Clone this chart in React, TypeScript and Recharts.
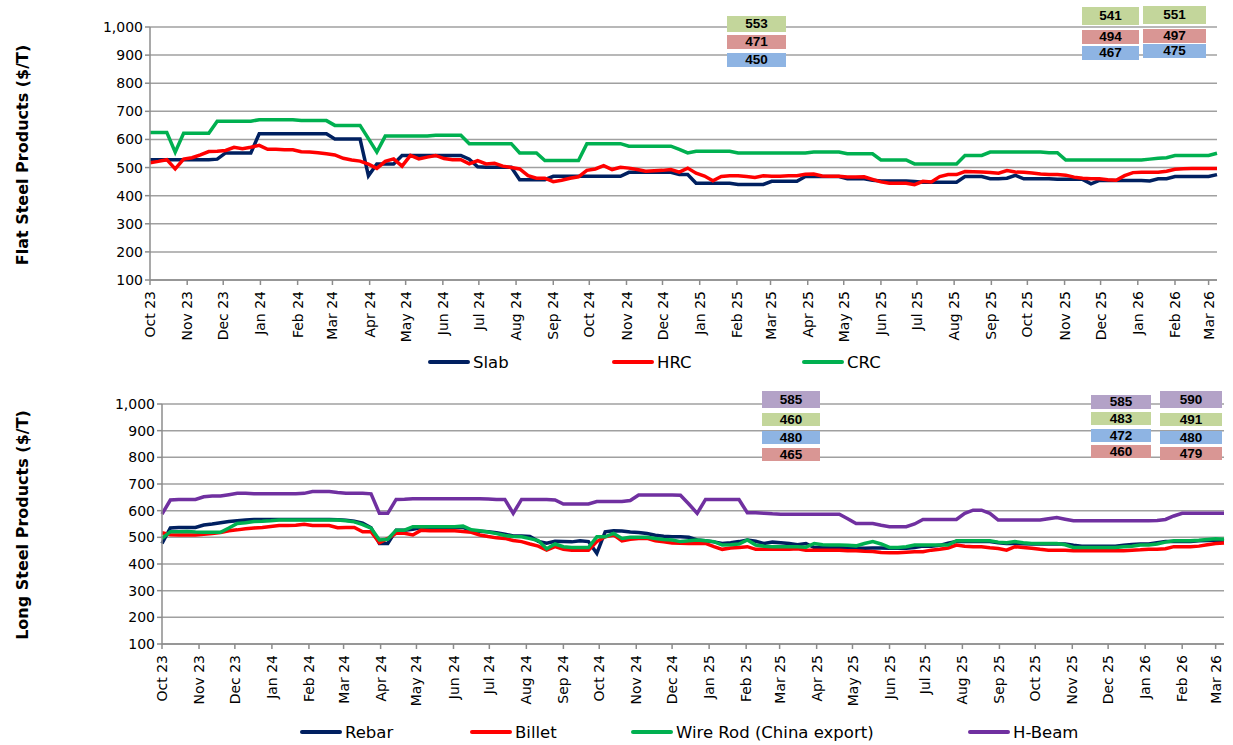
import React from "react";
import { LineChart, Line, XAxis, YAxis, CartesianGrid } from "recharts";

// weekly prices, first week = start of Oct 2023
const monthLabels = [
  "Oct 23", "Nov 23", "Dec 23", "Jan 24", "Feb 24", "Mar 24", "Apr 24", "May 24",
  "Jun 24", "Jul 24", "Aug 24", "Sep 24", "Oct 24", "Nov 24", "Dec 24", "Jan 25",
  "Feb 25", "Mar 25", "Apr 25", "May 25", "Jun 25", "Jul 25", "Aug 25", "Sep 25",
  "Oct 25", "Nov 25", "Dec 25", "Jan 26", "Feb 26", "Mar 26",
];

const slab = [
  528, 528, 528, 528, 528, 528, 528, 528, 530, 552,
  552, 552, 552, 620, 620, 620, 620, 620, 620, 620,
  620, 620, 602, 602, 602, 602, 471, 513, 513, 513,
  543, 543, 543, 543, 543, 543, 543, 543, 530, 503,
  501, 501, 501, 501, 457, 457, 457, 457, 469, 469,
  469, 469, 469, 469, 469, 469, 469, 483, 483, 483,
  483, 483, 483, 475, 475, 444, 444, 444, 444, 444,
  440, 440, 440, 440, 451, 451, 451, 451, 468, 468,
  468, 468, 468, 460, 460, 460, 455, 452, 452, 452,
  452, 450, 448, 448, 448, 448, 448, 468, 468, 468,
  460, 460, 462, 472, 460, 460, 460, 460, 458, 458,
  458, 458, 442, 454, 454, 454, 454, 454, 454, 452,
  460, 460, 468, 468, 468, 468, 468, 475,
];

const hrc = [
  517, 522, 528, 495, 530, 535, 545, 557, 558, 561,
  572, 567, 572, 579, 565, 565, 563, 563, 556, 555,
  553, 549, 545, 533, 527, 523, 512, 497, 522, 531,
  505, 543, 531, 537, 543, 532, 528, 528, 513, 525,
  513, 515, 505, 500, 495, 471, 462, 462, 450, 455,
  462, 467, 490, 495, 507, 493, 501, 498, 493, 487,
  489, 490, 493, 484, 498, 480, 470, 453, 468, 471,
  471, 468, 465, 471, 469, 469, 471, 471, 476, 477,
  470, 469, 469, 466, 466, 467, 458, 449, 444, 444,
  444, 439, 451, 449, 468, 475, 475, 486, 485, 484,
  482, 480, 489, 484, 483, 481, 477, 475, 475, 473,
  466, 462, 460, 460, 457, 455, 471, 482, 483, 483,
  483, 487, 494, 496, 497, 497, 497, 497,
];

const crc = [
  625, 625, 625, 555, 622, 622, 622, 622, 665, 665,
  665, 665, 665, 670, 670, 670, 670, 670, 667, 667,
  667, 667, 650, 650, 650, 650, 603, 555, 612, 612,
  612, 612, 612, 612, 615, 615, 615, 615, 585, 585,
  585, 585, 585, 585, 552, 552, 552, 525, 525, 525,
  525, 525, 585, 585, 585, 585, 585, 576, 576, 576,
  576, 576, 576, 565, 552, 558, 558, 558, 558, 558,
  552, 552, 552, 552, 552, 552, 552, 552, 552, 555,
  555, 555, 555, 549, 549, 549, 549, 527, 527, 527,
  527, 513, 513, 513, 513, 513, 513, 543, 543, 543,
  555, 555, 555, 555, 555, 555, 555, 553, 553, 527,
  527, 527, 527, 527, 527, 527, 527, 527, 527, 530,
  533, 535, 543, 543, 543, 543, 543, 551,
];

const rebar = [
  477, 535, 537, 537, 537, 546, 550, 555, 559, 562,
  565, 567, 567, 567, 567, 567, 567, 567, 567, 567,
  567, 566, 564, 560, 553, 536, 477, 477, 527, 527,
  530, 537, 537, 537, 537, 537, 537, 525, 523, 521,
  517, 512, 505, 505, 503, 485, 478, 485, 484, 483,
  487, 484, 440, 521, 525, 524, 520, 518, 514, 508,
  504, 502, 502, 500, 490, 487, 483, 477, 480, 484,
  490, 485, 477, 482, 480, 477, 472, 477, 462, 462,
  462, 462, 460, 459, 459, 460, 460, 459, 459, 459,
  462, 467, 467, 470, 478, 484, 484, 484, 484, 484,
  480, 477, 477, 476, 475, 475, 475, 475, 475, 470,
  467, 467, 467, 467, 467, 470, 473, 475, 475, 480,
  484, 484, 484, 484, 487, 488, 490, 486,
];

const billet = [
  517, 510, 509, 509, 509, 512, 514, 518, 525, 528,
  532, 535, 537, 541, 544, 544, 545, 549, 544, 544,
  544, 536, 537, 537, 521, 521, 480, 496, 515, 515,
  509, 527, 525, 525, 525, 525, 522, 519, 509, 503,
  498, 496, 488, 484, 475, 467, 452, 465, 455, 452,
  452, 452, 484, 502, 509, 487, 493, 496, 496, 487,
  483, 479, 478, 477, 477, 477, 465, 455, 460, 462,
  465, 455, 455, 455, 455, 455, 457, 452, 452, 452,
  452, 452, 450, 450, 448, 447, 443, 442, 442, 444,
  446, 446, 452, 455, 460, 471, 467, 465, 465, 461,
  458, 452, 465, 462, 459, 455, 452, 452, 452, 450,
  450, 450, 450, 450, 450, 450, 452, 453, 455, 455,
  457, 465, 465, 465, 467, 472, 477, 479,
];

const wireRod = [
  496, 521, 521, 522, 520, 519, 519, 519, 535, 552,
  555, 559, 560, 562, 565, 565, 565, 565, 565, 565,
  565, 565, 562, 558, 548, 534, 490, 493, 527, 527,
  540, 540, 540, 540, 540, 540, 542, 528, 525, 520,
  514, 507, 503, 502, 495, 488, 457, 475, 465, 462,
  462, 462, 502, 502, 515, 496, 500, 500, 500, 496,
  492, 490, 484, 487, 490, 487, 484, 471, 472, 475,
  490, 471, 467, 465, 465, 465, 465, 463, 477, 472,
  471, 471, 470, 468, 477, 484, 475, 462, 462, 465,
  471, 471, 471, 471, 471, 487, 487, 487, 487, 487,
  482, 480, 484, 480, 477, 477, 477, 477, 472, 462,
  462, 462, 462, 462, 462, 465, 467, 471, 471, 475,
  482, 487, 487, 487, 489, 492, 495, 493,
];

const hBeam = [
  587, 640, 642, 642, 642, 652, 655, 655, 660, 665,
  665, 663, 663, 663, 663, 663, 663, 665, 672, 672,
  672, 668, 665, 665, 665, 663, 590, 590, 642, 643,
  645, 645, 645, 645, 645, 645, 645, 645, 645, 644,
  642, 642, 590, 642, 642, 642, 642, 640, 625, 625,
  625, 625, 634, 634, 634, 634, 638, 659, 659, 659,
  659, 659, 658, 625, 590, 642, 642, 642, 642, 642,
  592, 592, 590, 588, 587, 587, 587, 587, 587, 587,
  587, 587, 570, 552, 552, 552, 545, 540, 540, 540,
  550, 567, 567, 567, 567, 567, 590, 602, 602, 590,
  565, 565, 565, 565, 565, 565, 570, 574, 568, 562,
  562, 562, 562, 562, 562, 562, 562, 562, 562, 563,
  567, 580, 590, 590, 590, 590, 590, 590,
];

// value call-outs (three dates on top, four products below)
const flatCallouts = { crc: [553, 541, 551], hrc: [471, 494, 497], slab: [450, 467, 475] };
const longCallouts = {
  hBeam: [585, 585, 590],
  wireRod: [460, 483, 491],
  rebar: [480, 472, 480],
  billet: [465, 460, 479],
};

const yTicks = [100, 200, 300, 400, 500, 600, 700, 800, 900, 1000];

const NAVY = "#002060";
const RED = "#ff0000";
const GREEN = "#00b050";
const PURPLE = "#7030a0";
const BOX = { green: "#c3d69b", red: "#d99694", blue: "#8eb4e3", purple: "#b3a2c7" };
const FONT = "DejaVu Sans";

const MONTHS = ["Jan", "Feb", "Mar", "Apr", "May", "Jun", "Jul", "Aug", "Sep", "Oct", "Nov", "Dec"];
const start = Date.UTC(2023, 9, 1);
const dayOf = (label: string) => {
  const [m, y] = label.split(" ");
  return Math.round((Date.UTC(2000 + Number(y), MONTHS.indexOf(m), 1) - start) / 86400000);
};
const monthDays = monthLabels.map(dayOf);
const labelOf: Record<number, string> = {};
monthDays.forEach((d, i) => (labelOf[d] = monthLabels[i]));
const lastDay = (slab.length - 1) * 7;

const flatData = slab.map((v, i) => ({ day: i * 7, slab: v, hrc: hrc[i], crc: crc[i] }));
const longData = rebar.map((v, i) => ({
  day: i * 7,
  rebar: v,
  billet: billet[i],
  wireRod: wireRod[i],
  hBeam: hBeam[i],
}));

const MonthTick = (props: any) => {
  const { x, y, payload } = props;
  return (
    <g transform={`translate(${x},${y})`}>
      <text
        transform="rotate(-90)"
        x={-4}
        y={0}
        dy="0.36em"
        textAnchor="end"
        fontSize={14}
        fontFamily={FONT}
        fill="#000"
      >
        {labelOf[payload.value]}
      </text>
    </g>
  );
};

const fmtY = (v: number) => v.toLocaleString("en-US");

function Panel(props: {
  data: any[];
  top: number;
  yWidth: number;
  right: number;
  xHeight: number;
  series: { key: string; color: string }[];
}) {
  const { data, top, yWidth, right, xHeight, series } = props;
  return (
    <div style={{ position: "absolute", left: 0, top }}>
      <LineChart width={1233} height={345} data={data} margin={{ top: 27, right, bottom: 0, left: 0 }}>
        <CartesianGrid vertical={false} stroke="#a0a0a0" strokeWidth={1.5} />
        <XAxis
          dataKey="day"
          type="number"
          domain={[0, lastDay]}
          ticks={monthDays}
          interval={0}
          height={xHeight}
          tick={<MonthTick />}
          tickSize={5}
          axisLine={{ stroke: "#8c8c8c", strokeWidth: 1.5 }}
          tickLine={{ stroke: "#8c8c8c", strokeWidth: 1.5 }}
        />
        <YAxis
          domain={[100, 1000]}
          ticks={yTicks}
          interval={0}
          width={yWidth}
          tickFormatter={fmtY}
          tickSize={5}
          tickMargin={2}
          tick={{ fontSize: 14, fontFamily: FONT, fill: "#000" }}
          axisLine={{ stroke: "#8c8c8c", strokeWidth: 1.5 }}
          tickLine={{ stroke: "#8c8c8c", strokeWidth: 1.5 }}
        />
        {series.map((s) => (
          <Line
            key={s.key}
            dataKey={s.key}
            type="linear"
            stroke={s.color}
            strokeWidth={3.5}
            dot={false}
            isAnimationActive={false}
          />
        ))}
      </LineChart>
    </div>
  );
}

function AxisTitle({ text, cy }: { text: string; cy: number }) {
  return (
    <div
      style={{
        position: "absolute",
        left: 22,
        top: cy,
        transform: "translate(-50%, -50%) rotate(-90deg)",
        whiteSpace: "nowrap",
        fontFamily: FONT,
        fontWeight: "bold",
        fontSize: 16,
        color: "#000",
      }}
    >
      {text}
    </div>
  );
}

function Callout({ x, y, w, h, bg, value }: { x: number; y: number; w: number; h: number; bg: string; value: number }) {
  return (
    <div
      style={{
        position: "absolute",
        left: x,
        top: y,
        width: w,
        height: h,
        background: bg,
        fontFamily: "Liberation Sans",
        fontWeight: "bold",
        fontSize: 13.5,
        lineHeight: `${h}px`,
        textAlign: "center",
        color: "#000",
      }}
    >
      {value}
    </div>
  );
}

function LegendRow({ y, items }: { y: number; items: { x: number; color: string; name: string }[] }) {
  return (
    <>
      {items.map((it) => (
        <div
          key={it.name}
          style={{ position: "absolute", left: it.x, top: y - 10, height: 20, display: "flex", alignItems: "center" }}
        >
          <div style={{ width: 42, height: 4, background: it.color, borderRadius: 2 }} />
          <span style={{ marginLeft: 3, fontFamily: FONT, fontSize: 16.5, color: "#000", whiteSpace: "nowrap" }}>
            {it.name}
          </span>
        </div>
      ))}
    </>
  );
}

export default function App() {
  const flatCols = [
    { x: 727, w: 59, ys: [16, 35, 53] },
    { x: 1082, w: 57, ys: [7, 30, 46] },
    { x: 1143, w: 63, ys: [6, 29, 44] },
  ];
  const longCols = [
    { x: 762, w: 58, ys: [391, 413, 431, 448] },
    { x: 1091, w: 60, ys: [395, 412, 429, 445] },
    { x: 1160, w: 62, ys: [391, 413, 431, 447] },
  ];
  return (
    <div style={{ position: "absolute", left: 0, top: 0, width: 1233, height: 745, background: "#fff", overflow: "hidden" }}>
      <Panel
        data={flatData}
        top={0}
        yWidth={150}
        right={16}
        xHeight={65}
        series={[
          { key: "slab", color: NAVY },
          { key: "hrc", color: RED },
          { key: "crc", color: GREEN },
        ]}
      />
      <Panel
        data={longData}
        top={377}
        yWidth={162}
        right={9}
        xHeight={78}
        series={[
          { key: "rebar", color: NAVY },
          { key: "billet", color: RED },
          { key: "wireRod", color: GREEN },
          { key: "hBeam", color: PURPLE },
        ]}
      />
      <AxisTitle text="Flat Steel Products ($/T)" cy={155} />
      <AxisTitle text="Long Steel Products ($/T)" cy={525} />

      {flatCols.map((c, i) => (
        <React.Fragment key={"f" + i}>
          <Callout x={c.x} y={c.ys[0]} w={c.w} h={i === 0 ? 16 : 18} bg={BOX.green} value={flatCallouts.crc[i]} />
          <Callout x={c.x} y={c.ys[1]} w={c.w} h={14} bg={BOX.red} value={flatCallouts.hrc[i]} />
          <Callout x={c.x} y={c.ys[2]} w={c.w} h={14} bg={BOX.blue} value={flatCallouts.slab[i]} />
        </React.Fragment>
      ))}
      {longCols.map((c, i) => (
        <React.Fragment key={"l" + i}>
          <Callout x={c.x} y={c.ys[0]} w={c.w} h={i === 1 ? 14 : 17} bg={BOX.purple} value={longCallouts.hBeam[i]} />
          <Callout x={c.x} y={c.ys[1]} w={c.w} h={13} bg={BOX.green} value={longCallouts.wireRod[i]} />
          <Callout x={c.x} y={c.ys[2]} w={c.w} h={13} bg={BOX.blue} value={longCallouts.rebar[i]} />
          <Callout x={c.x} y={c.ys[3]} w={c.w} h={13} bg={BOX.red} value={longCallouts.billet[i]} />
        </React.Fragment>
      ))}

      <LegendRow
        y={362}
        items={[
          { x: 428, color: NAVY, name: "Slab" },
          { x: 612, color: RED, name: "HRC" },
          { x: 802, color: GREEN, name: "CRC" },
        ]}
      />
      <LegendRow
        y={732}
        items={[
          { x: 300, color: NAVY, name: "Rebar" },
          { x: 470, color: RED, name: "Billet" },
          { x: 631, color: GREEN, name: "Wire Rod (China export)" },
          { x: 968, color: PURPLE, name: "H-Beam" },
        ]}
      />
    </div>
  );
}
